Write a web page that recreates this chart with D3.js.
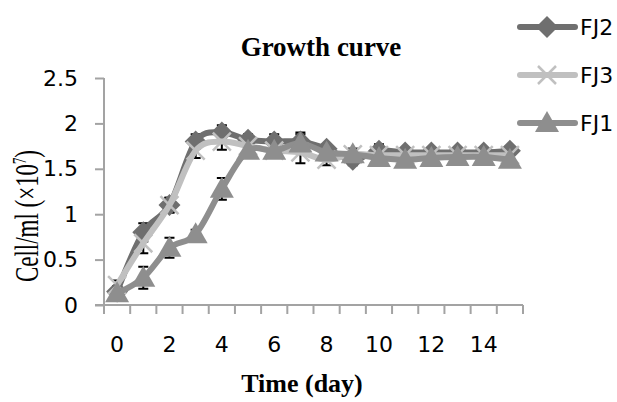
<!DOCTYPE html>
<html>
<head>
<meta charset="utf-8">
<script src="https://cdn.jsdelivr.net/npm/d3@7"></script>
<style>
  body { margin: 0; background: #fff; }
  svg { display: block; }
</style>
</head>
<body>
<svg id="chart" width="617" height="402"></svg>
<script>
var days = d3.range(0, 16)
var yTicks = [0, 0.5, 1, 1.5, 2, 2.5]
var seriesNames = ['FJ2', 'FJ3', 'FJ1']

var fj2 = [0.15, 0.8, 1.1, 1.8, 1.9, 1.82, 1.8, 1.8, 1.72, 1.6, 1.7, 1.68, 1.68, 1.68, 1.68, 1.7]
var fj3 = [0.22, 0.68, 1.1, 1.7, 1.8, 1.75, 1.7, 1.68, 1.6, 1.66, 1.65, 1.65, 1.65, 1.65, 1.65, 1.65]
var fj1 = [0.13, 0.3, 0.63, 0.78, 1.28, 1.7, 1.7, 1.78, 1.68, 1.66, 1.62, 1.6, 1.62, 1.63, 1.63, 1.6]

var fj2Err = [0.06, 0.1, 0.08, 0.08, 0.08, 0.06, 0.08, 0.1, 0.05, 0.06, 0.06, 0.05, 0.05, 0.05, 0.05, 0.05]
var fj3Err = [0.05, 0.11, 0.08, 0.08, 0.09, 0.06, 0.07, 0.12, 0.06, 0.06, 0.12, 0.05, 0.06, 0.05, 0.05, 0.05]
var fj1Err = [0.06, 0.12, 0.11, 0.05, 0.12, 0.05, 0.06, 0.1, 0.05, 0.06, 0.06, 0.05, 0.07, 0.06, 0.05, 0.05]

var series = [
  {name: 'FJ2', values: fj2, err: fj2Err, color: '#6f6f6f', marker: 'diamond'},
  {name: 'FJ3', values: fj3, err: fj3Err, color: '#c0c0c0', marker: 'x'},
  {name: 'FJ1', values: fj1, err: fj1Err, color: '#8e8e8e', marker: 'triangle'}
]

var svg = d3.select('#chart')
var axisColor = '#a3a3a3'
var tickFont = 'DejaVu Sans'

var x = d3.scaleBand().domain(days).range([104, 523])
var y = d3.scaleLinear().domain([0, 2.5]).range([305, 78])

// y axis
var yAxis = svg.append('g')
  .attr('transform', 'translate(104,0)')
  .call(d3.axisLeft(y).tickValues(yTicks).tickSize(9).tickPadding(17).tickFormat(d3.format('')))
yAxis.select('.domain').attr('stroke', axisColor).attr('stroke-width', 2)
  .attr('d', 'M0,' + y(2.5) + 'V' + y(0))
yAxis.selectAll('.tick line').attr('stroke', axisColor).attr('stroke-width', 2)
yAxis.selectAll('.tick text')
  .attr('font-family', tickFont).attr('font-size', 22).attr('fill', '#000')

// x axis
var xAxis = svg.append('g')
  .attr('transform', 'translate(0,305)')
  .call(d3.axisBottom(x).tickSize(0).tickPadding(31)
    .tickFormat(function(d) { return d % 2 === 0 ? d : '' }))
xAxis.select('.domain').attr('stroke', axisColor).attr('stroke-width', 2)
  .attr('d', 'M95,0H' + x.range()[1])
xAxis.selectAll('.tick text')
  .attr('font-family', tickFont).attr('font-size', 22).attr('fill', '#000')

var bounds = days.map(function(d) { return x(d) }).concat([x.range()[1]])
xAxis.selectAll('line.bt')
  .data(bounds)
  .enter()
  .append('line')
  .attr('class', 'bt')
  .attr('x1', function(d) { return d })
  .attr('x2', function(d) { return d })
  .attr('y1', 0)
  .attr('y2', 9)
  .attr('stroke', axisColor)
  .attr('stroke-width', 2)

function cx(i) { return x(days[i]) + x.bandwidth() / 2 }

var line = d3.line()
  .x(function(d, i) { return cx(i) })
  .y(function(d) { return y(d) })
  .curve(d3.curveCardinal.tension(0))

function drawMarker(g, type, color) {
  if (type === 'diamond') {
    g.append('path').attr('d', 'M0,-11L11,0L0,11L-11,0Z').attr('fill', color)
  } else if (type === 'triangle') {
    g.append('path').attr('d', 'M0,-12L12,9L-12,9Z').attr('fill', color)
  } else {
    g.append('path').attr('d', 'M-9,-9L9,9M-9,9L9,-9')
      .attr('stroke', color).attr('stroke-width', 2.5).attr('fill', 'none')
  }
}

// error bars
var errG = svg.append('g')
series.forEach(function(s) {
  s.values.forEach(function(v, i) {
    var top = y(v + s.err[i]), bot = y(v - s.err[i]), px = cx(i)
    errG.append('path')
      .attr('d', 'M' + px + ',' + top + 'V' + bot +
        'M' + (px - 5) + ',' + top + 'H' + (px + 5) +
        'M' + (px - 5) + ',' + bot + 'H' + (px + 5))
      .attr('stroke', '#000').attr('stroke-width', 2).attr('fill', 'none')
  })
})

series.forEach(function(s) {
  var g = svg.append('g')
  g.append('path')
    .datum(s.values)
    .attr('d', line)
    .attr('fill', 'none')
    .attr('stroke', s.color)
    .attr('stroke-width', 6)
  s.values.forEach(function(v, i) {
    var m = g.append('g').attr('transform', 'translate(' + cx(i) + ',' + y(v) + ')')
    drawMarker(m, s.marker, s.color)
  })
})

// legend
var legendY = [27, 75, 123]
series.forEach(function(s, i) {
  var g = svg.append('g').attr('transform', 'translate(0,' + legendY[i] + ')')
  g.append('line')
    .attr('x1', 520).attr('x2', 575).attr('y1', 0).attr('y2', 0)
    .attr('stroke', s.color).attr('stroke-width', 6).attr('stroke-linecap', 'round')
  var m = g.append('g').attr('transform', 'translate(547,0)')
  drawMarker(m, s.marker, s.color)
  g.append('text')
    .attr('x', 580).attr('y', 0).attr('dy', '0.36em')
    .attr('font-family', tickFont).attr('font-size', 22)
    .text(s.name)
})

// titles
svg.append('text')
  .attr('x', 321).attr('y', 56)
  .attr('text-anchor', 'middle')
  .attr('font-family', 'Liberation Serif').attr('font-weight', 'bold').attr('font-size', 27)
  .text('Growth curve')

svg.append('text')
  .attr('x', 302).attr('y', 392)
  .attr('text-anchor', 'middle')
  .attr('font-family', 'Liberation Serif').attr('font-weight', 'bold').attr('font-size', 26)
  .text('Time (day)')

var yt = svg.append('text')
  .attr('transform', 'translate(38,216) rotate(-90)')
  .attr('text-anchor', 'middle')
  .attr('font-family', 'Liberation Serif').attr('font-size', 33)
  .attr('textLength', 132).attr('lengthAdjust', 'spacingAndGlyphs')
yt.append('tspan').text('Cell/ml (×10')
yt.append('tspan').attr('dy', -12).attr('font-size', 18).text('7')
yt.append('tspan').attr('dy', 12).text(')')
</script>
</body>
</html>
